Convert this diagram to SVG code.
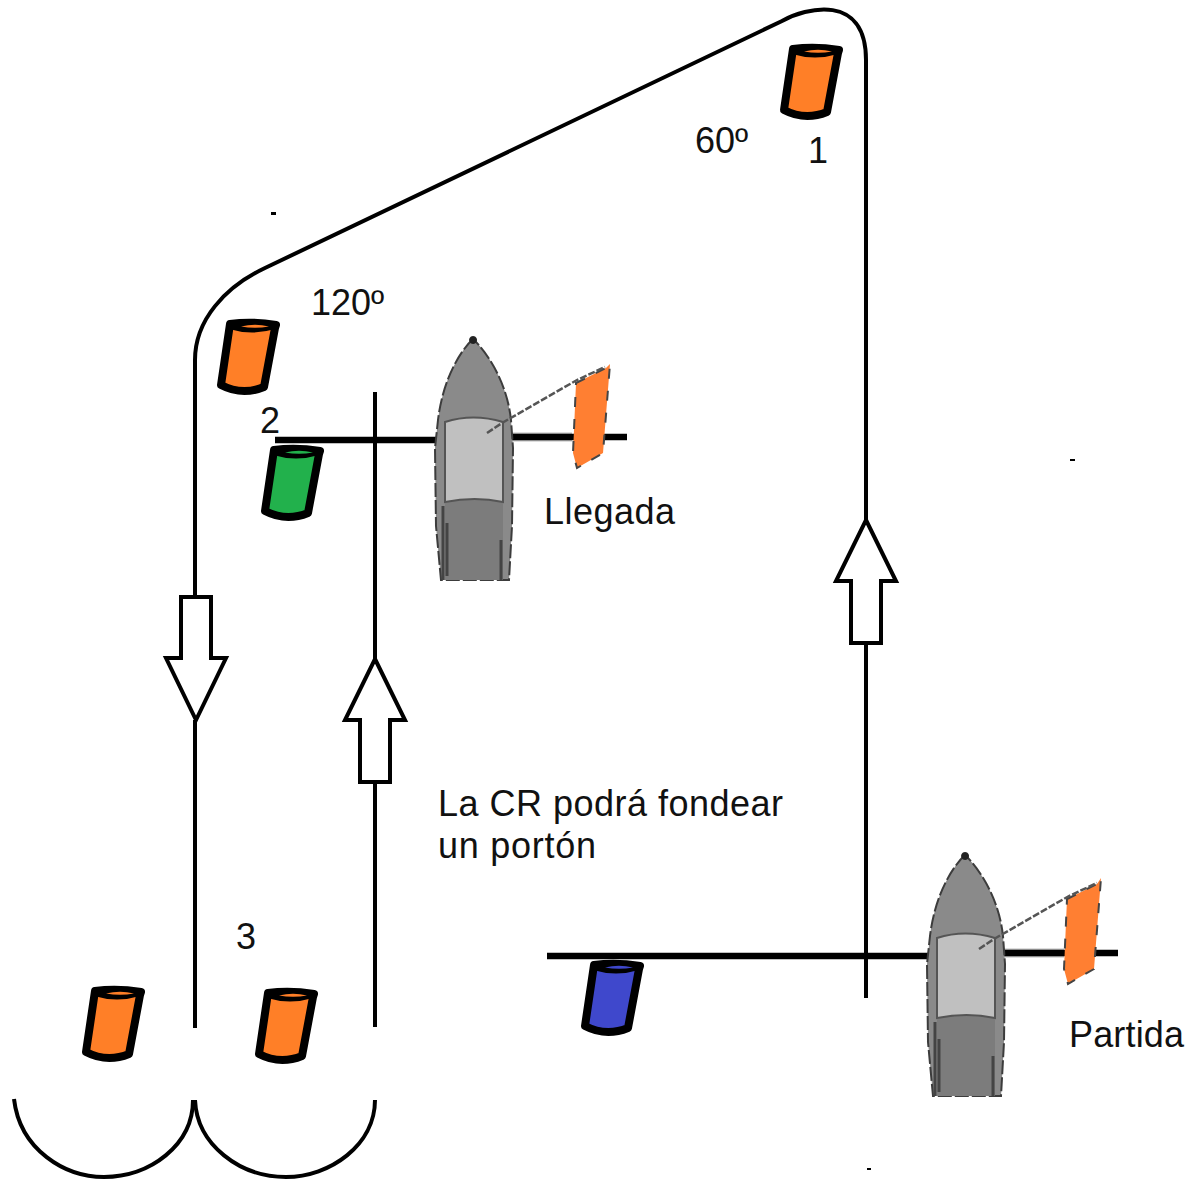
<svg xmlns="http://www.w3.org/2000/svg" width="1196" height="1179" viewBox="0 0 1196 1179">
<style>
text{font-family:"Liberation Sans",Arial,sans-serif;font-size:36px;fill:#111}
.ln{fill:none;stroke:#000;stroke-width:4}
.thick{fill:none;stroke:#000;stroke-width:6.500}
.halo{fill:none;stroke:#bbb;stroke-width:9}
.arrow{fill:#fff;stroke:#000;stroke-width:4}
.b{stroke:#000;stroke-width:8;stroke-linejoin:round}
.h1{fill:#8a8a8a;stroke:#3c3c3c;stroke-width:2;stroke-dasharray:14 3}
.h2{fill:#c0c0c0;stroke:#555;stroke-width:2}
.h3{fill:#7c7c7c}
.flag{fill:#ff7f32;stroke:#444;stroke-width:2;stroke-dasharray:10 12}
</style>
<defs>
<g id="buoy">
<path class="b" d="M13 5 Q35 2 59 6 L58 9 L47 68 Q25 77 4 66 L13 5Z" fill="currentColor"/>
<path d="M11 4 L61 4 L58 10 Q35 17 12 10Z" fill="#000"/>
<path d="M24 7.500 Q38 4 52 7.500 Q38 10 24 7.500Z" fill="currentColor"/>
</g>
<g id="boat">
<path class="h1" d="M38 3C26 14 8 42 3 84L0 112L1 190L6 244H74L77 190L78 112L76 84C72 46 52 16 38 3Z"/>
<path class="h3" d="M10 164H68V244H10Z"/>
<path d="M38 0a4 4 0 1 0 .1 0Z" fill="#222"/>
<path class="h2" d="M10 86Q38 77 68 86V166Q40 160 10 166Z"/>
<path d="M12 187V240M66 204V244M8 244V170" stroke="#444" stroke-width="3" fill="none"/>
</g>
<path id="rope" d="M52 97L67 87L142 44L170 31" stroke="#555" stroke-width="2.500" stroke-dasharray="7 2" fill="none"/>
</defs>
<g id="connectors">
<path class="ln" d="M195 1028V720M195 597V360C195 320 225 287 265 268L782 21C805 8 866 -8 866 60V520M866 643V998"/>
<path class="ln" d="M375 392V660M375 782V1027"/>
<path class="halo" d="M505 437H572"/>
<path class="halo" d="M997 953H1064"/>
<path class="thick" d="M275 440H441M503 437H627"/>
<path class="thick" d="M547 956H935M995 953H1118"/>
<path class="ln" d="M14 1099C20 1150 65 1177 104 1177C150 1177 193 1145 193 1100"/>
<path class="ln" d="M195 1100C197 1145 240 1177 286 1177C330 1177 375 1145 375 1100"/>
<path class="arrow" d="M181 597H211V658H226L196 720L166 658H181Z"/>
<path class="arrow" d="M375 659L405 720H390V782H360V720H345Z"/>
<path class="arrow" d="M866 520L896 581H881V643H851V581H836Z"/>
</g>
<g id="buoy1" color="#ff7f27"><use href="#buoy" x="780" y="44"/></g>
<g id="buoy2" color="#ff7f27"><use href="#buoy" x="217" y="319"/></g>
<g id="buoy-green" color="#22b14c"><use href="#buoy" x="261" y="445"/></g>
<g id="buoy3a" color="#ff7f27"><use href="#buoy" x="82" y="986"/></g>
<g id="buoy3b" color="#ff7f27"><use href="#buoy" x="255" y="988"/></g>
<g id="buoy-blue" color="#3f48cc"><use href="#buoy" x="581" y="960"/></g>
<g id="boat-llegada"><use href="#boat" x="435" y="336"/><path class="flag" d="M576 383L606 368L610 364L603 453L577 468L573 453Z"/><use href="#rope" x="435" y="336"/></g>
<g id="boat-partida"><use href="#boat" x="927" y="852"/><path class="flag" d="M1067 899L1097 884L1101 878L1094 969L1068 984L1064 969Z"/><use href="#rope" x="927" y="852"/></g>
<g id="labels">
<text x="695" y="153">60º</text>
<text x="808" y="163">1</text>
<text x="311" y="315">120º</text>
<text x="260" y="433">2</text>
<text x="544" y="524" textLength="131">Llegada</text>
<text x="438" y="816" textLength="345">La CR podrá fondear</text>
<text x="438" y="858" textLength="158">un portón</text>
<text x="236" y="949">3</text>
<text x="1069" y="1047" textLength="115">Partida</text>
</g>
<g id="specks" fill="#000"><rect x="271" y="212" width="5" height="3"/><rect x="1070" y="459" width="5" height="2"/><rect x="867" y="1168" width="4" height="2"/></g>
</svg>
